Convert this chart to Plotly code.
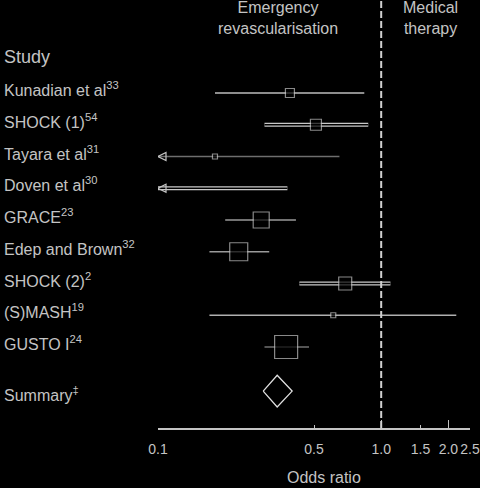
import plotly.graph_objects as go

studies = ['Kunadian et al', 'SHOCK (1)', 'Tayara et al', 'Doven et al', 'GRACE',
           'Edep and Brown', 'SHOCK (2)', '(S)MASH', 'GUSTO I']
refs = ['33', '54', '31', '30', '23', '32', '2', '19', '24']
odds = [0.39, 0.51, 0.18, None, 0.29, 0.23, 0.69, 0.61, 0.375]
lower = [0.18, 0.30, None, None, 0.20, 0.17, 0.43, 0.17, 0.30]
upper = [0.84, 0.875, 0.65, 0.38, 0.415, 0.315, 1.10, 2.17, 0.475]
summary_or, summary_lo, summary_hi = 0.342, 0.296, 0.399

tick_vals = [0.1, 0.5, 1.0, 1.5, 2.0, 2.5]
tick_text = ['0.1', '0.5', '1.0', '1.5', '2.0', '2.5']
long_ticks = [0.1, 1.0, 2.0, 2.5]

# styling per row (square size, line look)
sq_size = [9, 11, 5, 0, 16, 18, 13, 5, 23]
thick = [False, True, False, True, False, False, True, False, False]
line_col = ['#bdbdbd', '#c8c8c8', '#6e6e6e', '#c8c8c8', '#9a9a9a',
            '#9a9a9a', '#c8c8c8', '#b0b0b0', '#707070']

FG = '#c4c4c4'
BG = '#000000'
x_min = 0.1
rows = list(range(len(studies)))
summary_row = 9.39

fig = go.Figure()

for i in rows:
    lo = lower[i] if lower[i] is not None else x_min
    xs = [lo, upper[i]]
    if thick[i]:
        fig.add_trace(go.Scatter(x=xs, y=[i, i], mode='lines',
                                 line=dict(color=line_col[i], width=4),
                                 hoverinfo='skip', showlegend=False))
        fig.add_trace(go.Scatter(x=xs, y=[i, i], mode='lines',
                                 line=dict(color=BG, width=1.6),
                                 hoverinfo='skip', showlegend=False))
    else:
        fig.add_trace(go.Scatter(x=xs, y=[i, i], mode='lines',
                                 line=dict(color=line_col[i], width=1.3),
                                 hoverinfo='skip', showlegend=False))
    if lower[i] is None:
        # confidence interval runs off the left of the scale
        fig.add_trace(go.Scatter(x=[x_min], y=[i], mode='markers',
                                 marker=dict(symbol='arrow-left-open', size=8,
                                             color=FG, line=dict(color=FG, width=1.2)),
                                 hoverinfo='skip', showlegend=False))

# point estimates
pts = [i for i in rows if odds[i] is not None and sq_size[i] > 0]
fig.add_trace(go.Scatter(
    x=[odds[i] for i in pts], y=pts, mode='markers',
    marker=dict(symbol='square', size=[sq_size[i] for i in pts], color=BG,
                line=dict(color=FG, width=1.2)),
    hoverinfo='skip', showlegend=False))

# summary diamond
fig.add_trace(go.Scatter(
    x=[summary_lo, summary_or, summary_hi, summary_or, summary_lo],
    y=[summary_row, summary_row - 0.5, summary_row, summary_row + 0.5, summary_row],
    mode='lines', fill='toself', fillcolor=BG,
    line=dict(color='#e0e0e0', width=1.3), hoverinfo='skip', showlegend=False))

# overlay axis for the long end ticks
fig.add_trace(go.Scatter(x=[1], y=[0], xaxis='x2', mode='markers',
                         marker=dict(opacity=0), hoverinfo='skip', showlegend=False))

# labels
labels = [f'{s}<sup>{r}</sup>' for s, r in zip(studies, refs)]
for i in rows:
    fig.add_annotation(x=0.004, xref='paper', y=i - 0.12, yref='y', text=labels[i],
                       xanchor='left', yanchor='middle', showarrow=False,
                       font=dict(size=16, color=FG))
fig.add_annotation(x=0.004, xref='paper', y=summary_row + 0.1, yref='y',
                   text='Summary<sup>‡</sup>', xanchor='left', yanchor='middle',
                   showarrow=False, font=dict(size=16, color=FG))
fig.add_annotation(x=0.004, xref='paper', y=-1.13, yref='y', text='Study',
                   xanchor='left', yanchor='middle', showarrow=False,
                   font=dict(size=18, color=FG))

fig.add_annotation(x=0.579, xref='paper', y=0.963, yref='paper',
                   text='Emergency<br>revascularisation', showarrow=False,
                   xanchor='center', yanchor='middle',
                   font=dict(size=16, color=FG))
fig.add_annotation(x=0.897, xref='paper', y=0.963, yref='paper',
                   text='Medical<br>therapy', showarrow=False,
                   xanchor='center', yanchor='middle',
                   font=dict(size=16, color=FG))
fig.add_annotation(x=0.675, xref='paper', y=0.021, yref='paper',
                   text='Odds ratio', showarrow=False,
                   xanchor='center', yanchor='middle',
                   font=dict(size=16, color=FG))

# line of no effect
fig.add_shape(type='line', x0=1, x1=1, xref='x', y0=0.123, y1=1, yref='paper',
              line=dict(color='#d0d0d0', width=2, dash='7px,3px'))

x_range = [-1, 0.39794]
fig.update_layout(
    width=480, height=488,
    margin=dict(l=0, r=0, t=0, b=0, autoexpand=False),
    paper_bgcolor=BG, plot_bgcolor=BG,
    font=dict(family='Liberation Sans, Arial, sans-serif', color=FG),
    xaxis=dict(type='log', range=x_range, domain=[158 / 480, 470 / 480],
               tickvals=tick_vals, ticktext=tick_text, automargin=False,
               tickangle=0,
               ticks='inside', ticklen=3, tickcolor=FG, tickwidth=1.3,
               showline=True, linecolor=FG, linewidth=1.5,
               showgrid=False, zeroline=False,
               tickfont=dict(size=14, color=FG), ticklabelstandoff=7),
    xaxis2=dict(type='log', range=x_range, overlaying='x', anchor='y', side='bottom',
                tickvals=long_ticks, ticks='inside', ticklen=8, tickcolor=FG,
                tickwidth=1.3, showticklabels=False, showgrid=False,
                showline=False, zeroline=False, automargin=False),
    yaxis=dict(range=[10.551, -2.929], domain=[0.123, 1], visible=False,
               automargin=False),
)

fig.write_html('out.html', config={'displayModeBar': False},
               post_script="document.body.style.margin='0';")
